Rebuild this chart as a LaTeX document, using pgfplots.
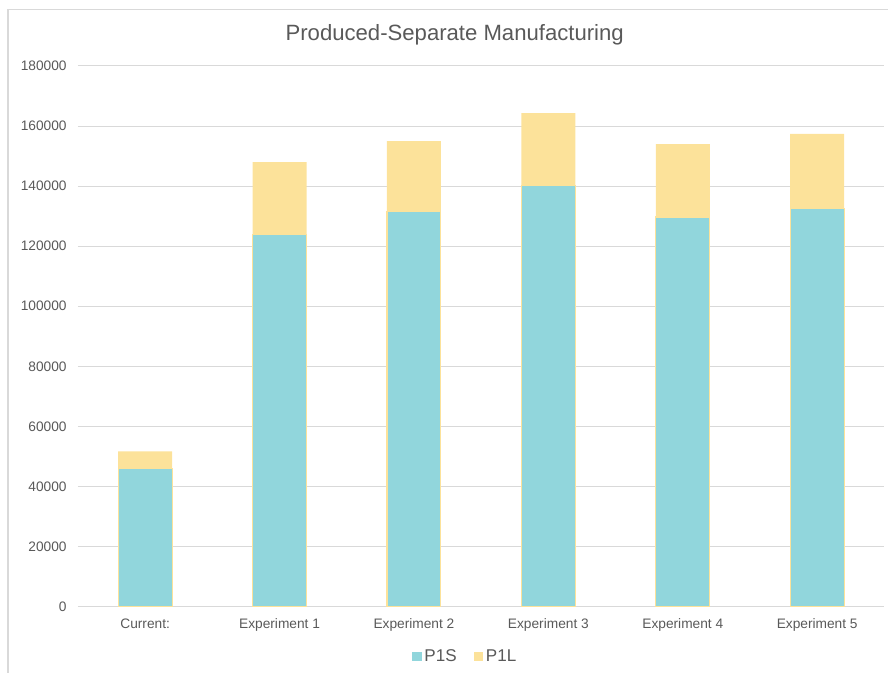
\documentclass[border=0pt]{standalone}
\usepackage{pgfplots}
\pgfplotsset{compat=1.18}
\usepackage{fontspec}
\setmainfont{Liberation Sans}
\definecolor{teal1}{RGB}{145,214,220}
\definecolor{yel1}{RGB}{252,226,154}
\definecolor{txt}{RGB}{89,89,89}
\definecolor{grid1}{RGB}{217,217,217}
\begin{document}
\begin{tikzpicture}
\begin{axis}[
  scale only axis,
  width=605.25pt, height=405.75pt,
  ybar stacked,
  bar width=40.5pt,
  xmin=-0.5, xmax=5.5,
  ymin=0, ymax=180000,
  ytick={0,20000,...,180000},
  xtick={0,1,2,3,4,5},
  xticklabels={Current:,Experiment 1,Experiment 2,Experiment 3,Experiment 4,Experiment 5},
  scaled y ticks=false,
  /pgf/number format/assume math mode=true,
  yticklabel={\pgfmathprintnumber[fixed,precision=0,set thousands separator={}]{\tick}},
  ymajorgrids,
  grid style={grid1, line width=0.75pt},
  axis line style={draw=none},
  major tick length=0pt,
  tick label style={font=\fontsize{10.3}{12}\selectfont, text=txt},
  yticklabel style={xshift=-5pt},
  xticklabel style={yshift=-5.5pt},
  legend style={draw=none, at={(0.478,-0.092)}, anchor=center, legend columns=2,
    font=\fontsize{12.8}{14}\selectfont, text=txt},
  legend image code/.code={\path (-3pt,0pt); \draw[#1, draw=none] (0pt,-3.5pt) rectangle (7pt,3.5pt);},
  clip=false,
]
\addplot+[fill=teal1, draw=yel1, line width=0.8pt] coordinates {(0,46000) (1,124000) (2,131400) (3,140100) (4,129700) (5,132400)};
\addplot+[fill=yel1, draw=none] coordinates {(0,5700) (1,24000) (2,23600) (3,24200) (4,24300) (5,25000)};
\legend{P1S\rule{8pt}{0pt},P1L}
\end{axis}
\path (current axis.south west) ++(-58.5pt,-49.5pt) coordinate (BL);
\path (current axis.south west) ++(608.25pt,455.25pt) coordinate (TR);
\path[draw=none] (BL) rectangle (TR);
\draw[grid1, line width=0.9pt] ([xshift=-52.5pt,yshift=-49.5pt]current axis.south west) -- ([xshift=-52.5pt,yshift=448.1pt]current axis.south west) -- ([xshift=608.25pt,yshift=448.1pt]current axis.south west);
\node[text=txt, font=\fontsize{16.6}{20}\selectfont] at ([xshift=282.75pt,yshift=429pt]current axis.south west) {Produced-Separate Manufacturing};
\end{tikzpicture}
\end{document}
